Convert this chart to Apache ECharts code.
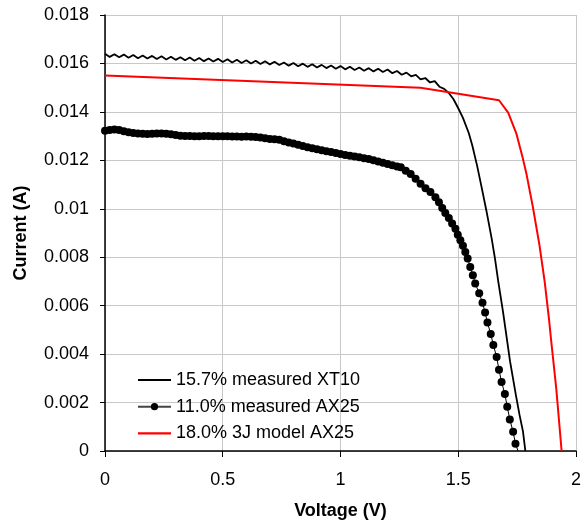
<!DOCTYPE html>
<html>
<head>
<meta charset="utf-8">
<script src="https://cdn.jsdelivr.net/npm/echarts@6/dist/echarts.min.js"></script>
<style>
html,body{margin:0;padding:0;background:#fff;}
#chart{width:584px;height:525px;}
</style>
</head>
<body>
<div id="chart"></div>
<script>
// Series names (legend)
const seriesNames = ["15.7% measured XT10", "11.0% measured AX25", "18.0% 3J model AX25"];

// Tick settings
const xTicks = [0, 0.5, 1, 1.5, 2];
const yTicks = [0, 0.002, 0.004, 0.006, 0.008, 0.01, 0.012, 0.014, 0.016, 0.018];

// 15.7% measured XT10 : voltage (V), current (A)
const xt10V = [0.00,0.02,0.04,0.06,0.08,0.10,0.12,0.14,0.16,0.18,0.20,0.22,0.24,0.26,0.28,0.30,0.32,0.34,0.36,0.38,
  0.40,0.42,0.44,0.46,0.48,0.50,0.52,0.54,0.56,0.58,0.60,0.62,0.64,0.66,0.68,0.70,0.72,0.74,0.76,0.78,
  0.80,0.82,0.84,0.86,0.88,0.90,0.92,0.94,0.96,0.98,1.00,1.02,1.04,1.06,1.08,1.10,1.12,1.14,1.16,1.18,
  1.20,1.22,1.24,1.26,1.28,1.30,1.32,1.34,1.36,1.38,1.40,1.42,1.44,1.46,1.48,1.50,1.52,1.545,1.56,1.58,
  1.60,1.62,1.642,1.656,1.670,1.690,1.720,1.745,1.760,1.775,1.785];
const xt10I = [0.016400,0.016271,0.016382,0.016254,0.016365,0.016236,0.016347,0.016218,0.016330,0.016201,
  0.016312,0.016183,0.016294,0.016166,0.016277,0.016148,0.016259,0.016130,0.016242,0.016113,
  0.016224,0.016095,0.016206,0.016078,0.016189,0.016060,0.016170,0.016040,0.016150,0.016020,
  0.016130,0.016000,0.016110,0.015980,0.016090,0.015960,0.016067,0.015935,0.016042,0.015909,
  0.016017,0.015884,0.015991,0.015859,0.015966,0.015833,0.015941,0.015808,0.015915,0.015783,
  0.015890,0.015756,0.015862,0.015728,0.015834,0.015700,0.015806,0.015672,0.015778,0.015644,
  0.015750,0.015598,0.015686,0.015534,0.015622,0.015470,0.015526,0.015342,0.015398,0.015214,
  0.015270,0.015040,0.014950,0.014780,0.014520,0.014150,0.013750,0.013120,0.012600,0.011780,
  0.010850,0.009900,0.008770,0.007940,0.006990,0.005750,0.003700,0.002300,0.001500,0.000800,0.0];

// 11.0% measured AX25 : voltage (V), current (A)
const ax25V = [0.00,0.02,0.04,0.06,0.08,0.10,0.12,0.14,0.16,0.18,0.20,0.22,0.24,0.26,0.28,0.30,0.32,0.34,0.36,0.38,
  0.40,0.42,0.44,0.46,0.48,0.50,0.52,0.54,0.56,0.58,0.60,0.62,0.64,0.66,0.68,0.70,0.72,0.74,0.76,0.78,
  0.80,0.82,0.84,0.86,0.88,0.90,0.92,0.94,0.96,0.98,1.00,1.02,1.04,1.06,1.08,1.10,1.12,1.14,1.16,1.18,
  1.20,1.22,1.24,1.256,1.277,1.298,1.319,1.340,1.361,1.382,1.403,1.418,1.432,1.445,1.460,1.474,1.488,1.498,
  1.509,1.520,1.530,1.540,1.551,1.562,1.572,1.589,1.603,1.614,1.624,1.638,1.649,1.663,1.673,1.684,1.698,
  1.708,1.719,1.733,1.743,1.754];
const ax25I = [0.01322,0.01325,0.01327,0.01325,0.01320,0.01316,0.01313,0.01311,0.01310,0.01309,
  0.01310,0.01311,0.01311,0.01310,0.01308,0.01305,0.01302,0.01300,0.01300,0.01299,
  0.01299,0.01300,0.01300,0.01299,0.01299,0.01299,0.01299,0.01298,0.01298,0.01297,
  0.01298,0.01297,0.01296,0.01294,0.01291,0.01288,0.01287,0.01285,0.01279,0.01274,
  0.01269,0.01264,0.01259,0.01254,0.01250,0.01246,0.01242,0.01238,0.01234,0.01230,
  0.01226,0.01222,0.01219,0.01216,0.01213,0.01209,0.01205,0.01200,0.01195,0.01190,
  0.01185,0.01180,0.01175,0.01171,0.01157,0.01144,0.01124,0.01103,0.01085,0.01069,
  0.01048,0.01027,0.01003,0.00983,0.00962,0.00939,0.00918,0.00893,
  0.00870,0.00847,0.00822,0.00795,0.00760,0.00726,0.00692,0.00651,0.00612,0.00572,
  0.00530,0.00483,0.00438,0.00388,0.00335,0.00285,0.00235,
  0.00183,0.00130,0.00079,0.00030,0.0];

// 18.0% 3J model AX25 : voltage (V), current (A)
const modelV = [0.000,1.340,1.673,1.712,1.747,1.775,1.789,1.817,1.845,1.867,1.885,1.895,1.916,1.939];
const modelI = [0.01550,0.01500,0.01448,0.01397,0.01310,0.01205,0.01147,0.01007,0.00849,0.00699,0.00548,0.00452,0.00260,0.0];

function pairs(v, i) { return v.map((x, k) => [x, i[k]]); }

const ax25Data = pairs(ax25V, ax25I).map((p, k, arr) =>
  k === arr.length - 1 ? { value: p, symbol: 'none' } : p);

const FONT = "'Liberation Sans', Arial, sans-serif";
const LINE_ICON = 'path://M0,0L33,0L33,2.2L0,2.2Z';
const chart = echarts.init(document.getElementById('chart'), null, { renderer: 'canvas' });

chart.setOption({
  animation: false,
  backgroundColor: '#ffffff',
  grid: { left: 105, right: 4, top: 15, bottom: 72, containLabel: false },
  legend: {
    orient: 'vertical',
    left: 137,
    top: 370,
    padding: 0,
    itemWidth: 33,
    itemHeight: 9,
    itemGap: 6.7,
    symbolKeepAspect: true,
    data: [
      { name: seriesNames[0], icon: LINE_ICON },
      { name: seriesNames[1], lineStyle: { color: '#444', width: 2 } },
      { name: seriesNames[2], icon: LINE_ICON }
    ],
    textStyle: { fontFamily: FONT, fontSize: 18, color: '#000', lineHeight: 20 }
  },
  xAxis: {
    type: 'value',
    min: xTicks[0],
    max: xTicks[xTicks.length - 1],
    interval: xTicks[1] - xTicks[0],
    name: 'Voltage (V)',
    nameLocation: 'middle',
    nameGap: 51,
    nameTextStyle: { fontFamily: FONT, fontSize: 18, fontWeight: 'bold', color: '#000' },
    axisLine: { show: true, onZero: false, lineStyle: { color: '#000', width: 1.5 } },
    axisTick: { show: true, inside: false, length: 6, lineStyle: { color: '#000', width: 1 } },
    axisLabel: { fontFamily: FONT, fontSize: 18, color: '#000', margin: 20 },
    splitLine: { show: true, lineStyle: { color: '#c8c8c8', width: 1 } }
  },
  yAxis: {
    type: 'value',
    min: yTicks[0],
    max: yTicks[yTicks.length - 1],
    interval: yTicks[1] - yTicks[0],
    name: 'Current (A)',
    nameLocation: 'middle',
    nameGap: 75,
    nameRotate: 90,
    nameTextStyle: { fontFamily: FONT, fontSize: 18, fontWeight: 'bold', color: '#000' },
    axisLine: { show: true, onZero: false, lineStyle: { color: '#000', width: 1.5 } },
    axisTick: { show: true, inside: false, length: 5, lineStyle: { color: '#000', width: 1 } },
    axisLabel: {
      fontFamily: FONT, fontSize: 18, color: '#000', margin: 16,
      formatter: v => String(parseFloat(v.toFixed(4)))
    },
    splitLine: { show: true, lineStyle: { color: '#c8c8c8', width: 1 } }
  },
  series: [
    {
      name: seriesNames[0],
      type: 'line',
      data: pairs(xt10V, xt10I),
      showSymbol: false,
      symbol: 'none',
      lineStyle: { color: '#000', width: 1.8 },
      itemStyle: { color: '#000' },
      z: 3
    },
    {
      name: seriesNames[1],
      type: 'line',
      data: ax25Data,
      symbol: 'circle',
      symbolSize: 8,
      showAllSymbol: true,
      lineStyle: { color: '#000', width: 1 },
      itemStyle: { color: '#000' },
      z: 2
    },
    {
      name: seriesNames[2],
      type: 'line',
      data: pairs(modelV, modelI),
      showSymbol: false,
      symbol: 'none',
      lineStyle: { color: '#ff0000', width: 2 },
      itemStyle: { color: '#ff0000' },
      z: 4
    }
  ]
});
</script>
</body>
</html>
